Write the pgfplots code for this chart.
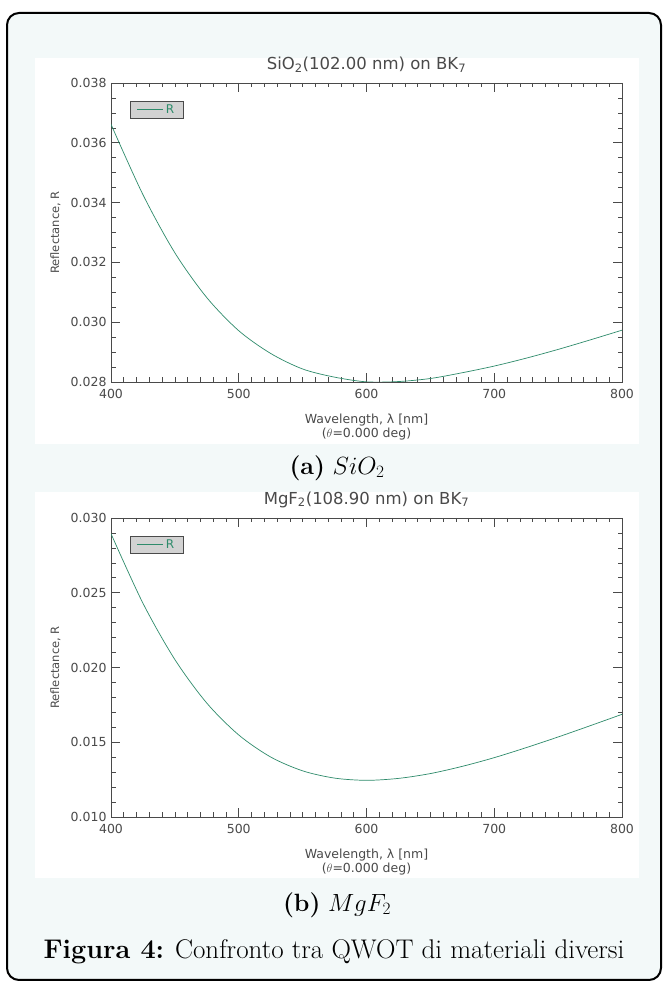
\documentclass[border=0pt]{standalone}
\usepackage{fontspec}
\usepackage{pgfplots}
\pgfplotsset{compat=1.18}
\newfontfamily\idl{DejaVu Sans}
\definecolor{bgc}{HTML}{F3F9F9}
\definecolor{curve}{HTML}{2E8B6B}
\definecolor{txt}{HTML}{4A4A4A}
\pgfplotsset{idl/.style={
  scale only axis, width=511pt, height=299pt,
  xmin=400, xmax=800, xtick={400,500,...,800}, minor x tick num=9,
  tick align=inside, major tick length=9pt, minor tick length=4.5pt,
  axis line style={txt, line width=0.6pt},
  every tick/.style={txt, line width=0.6pt},
  /pgf/number format/assume math mode=true,
  tick label style={font=\idl\fontsize{12.5}{14}\selectfont, text=txt},
  xticklabel style={yshift=-4pt},
  yticklabel style={xshift=-1pt},
  xlabel style={font=\idl\fontsize{12.5}{14.5}\selectfont, text=txt, at={(axis description cs:0.5,0)}, anchor=north, yshift=-28pt, align=center},
  ylabel style={font=\idl\fontsize{11.5}{13}\selectfont, text=txt, at={(axis description cs:-0.092,0.5)}, anchor=south},
  title style={font=\idl\fontsize{16.5}{18}\selectfont, text=txt, at={(axis description cs:0.5,1)}, anchor=south, yshift=1pt},
  scaled y ticks=false,
  yticklabel style={/pgf/number format/.cd, fixed, fixed zerofill, precision=3},
  legend style={at={(0.037,0.94)}, anchor=north west, fill=gray!35, draw=txt,
    font=\idl\fontsize{12}{13}\selectfont, text=curve, inner xsep=7pt, inner ysep=1.5pt},
  legend image code/.code={\draw[#1] (0pt,0pt) -- (26pt,0pt);},
  xlabel={Wavelength, λ [nm]\\($\theta$=0.000 deg)},
  ylabel={Reflectance, R},
}}
\begin{document}
\begin{tikzpicture}[x=1pt,y=1pt]
\useasboundingbox (0,0) rectangle (663,983);
\clip (0,0) rectangle (663,983);
\fill[white] (0,0) rectangle (663,983);
\draw[line width=2pt, fill=bgc, rounded corners=12pt] (7,3) rectangle (661,970);
\fill[white] (35,539) rectangle (639,925);
\fill[white] (35,105) rectangle (639,491);

\begin{axis}[idl, at={(111pt,601pt)}, anchor=south west,
  ymin=0.028, ymax=0.038, ytick={0.028,0.030,...,0.038}, minor y tick num=3,
  title={SiO\textsubscript{2}(102.00 nm) on BK\textsubscript{7}}]
\addplot[curve, line width=0.7pt, smooth] coordinates {
(400,0.036620) (425,0.034266) (450,0.032320) (475,0.030822) (500,0.029715)
(525,0.028954) (550,0.028435) (575,0.028162) (600,0.028005) (625,0.028015)
(650,0.028117) (675,0.028310) (700,0.028533) (725,0.028797) (750,0.029090)
(775,0.029406) (800,0.029733)};
\addlegendentry{R}
\end{axis}

\begin{axis}[idl, at={(111pt,166pt)}, anchor=south west,
  ymin=0.010, ymax=0.030, ytick={0.010,0.015,...,0.030}, minor y tick num=4,
  title={MgF\textsubscript{2}(108.90 nm) on BK\textsubscript{7}}]
\addplot[curve, line width=0.7pt, smooth] coordinates {
(400,0.028950) (425,0.024300) (450,0.020530) (475,0.017617) (500,0.015486)
(525,0.014012) (550,0.013088) (575,0.012602) (600,0.012453) (625,0.012582)
(650,0.012905) (675,0.013388) (700,0.013970) (725,0.014639) (750,0.015353)
(775,0.016103) (800,0.016868)};
\addlegendentry{R}
\end{axis}

\node[font=\fontsize{25}{30}\selectfont] at (337,515) {\textbf{(a)} $SiO_2$};
\node[font=\fontsize{25}{30}\selectfont] at (337,78) {\textbf{(b)} $MgF_2$};
\node[font=\fontsize{27}{32}\selectfont] at (334,31) {\textbf{Figura 4:} Confronto tra QWOT di materiali diversi};
\end{tikzpicture}
\end{document}
